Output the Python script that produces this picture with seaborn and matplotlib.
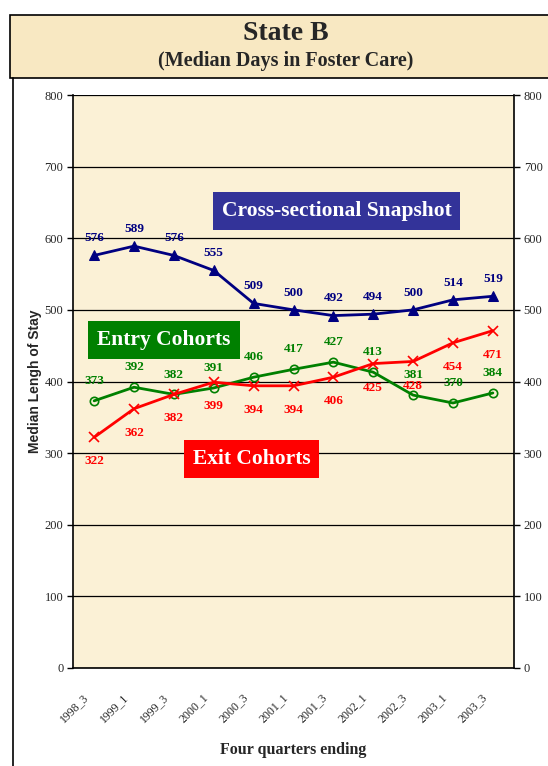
import numpy as np
import pandas as pd
import matplotlib
matplotlib.use("Agg")
import matplotlib.pyplot as plt
import matplotlib.transforms as mtrans
import seaborn as sns
from matplotlib.patches import Rectangle

#%% data
quarters = ["1998_3", "1999_1", "1999_3", "2000_1", "2000_3", "2001_1",
            "2001_3", "2002_1", "2002_3", "2003_1", "2003_3"]
snapshot = [576, 589, 576, 555, 509, 500, 492, 494, 500, 514, 519]
entry = [373, 392, 382, 391, 406, 417, 427, 413, 381, 370, 384]
exit_ = [322, 362, 382, 399, 394, 394, 406, 425, 428, 454, 471]

df = pd.DataFrame({"pos": np.arange(len(quarters)), "quarter": quarters,
                   "snapshot": snapshot, "entry": entry, "exit": exit_})

sns.set_style("white")
plt.rcParams['font.family'] = ['Liberation Serif', 'DejaVu Serif']

fig = plt.figure(figsize=(5.48, 7.66), dpi=100)
W, H = 548, 766

# title box
fig.patches.append(Rectangle((10 / W, 1 - 78 / H), 1, 63 / H, transform=fig.transFigure,
                             facecolor="#F8E8C2", edgecolor="black", lw=1.2))
fig.add_artist(plt.Line2D([13 / W, 13 / W], [0, 1 - 78 / H], color="black", lw=1.2,
                          transform=fig.transFigure))
fig.text(0.522, 1 - 34 / H, "State B", ha="center", va="center", fontsize=20, fontweight="bold")
fig.text(0.522, 1 - 61 / H, "(Median Days in Foster Care)", ha="center", va="center",
         fontsize=14.5, fontweight="bold")

ax = fig.add_axes([73 / W, 1 - 668 / H, 441 / W, 573 / H])
ax.set_facecolor("#FBF1D6")

sns.lineplot(data=df, x="pos", y="snapshot", ax=ax, color="#000080", marker="^",
             markersize=6.5, lw=2, markeredgecolor="#000080")
sns.lineplot(data=df, x="pos", y="entry", ax=ax, color="#008000", marker="o",
             markersize=6, lw=2, markerfacecolor="none", markeredgecolor="#008000",
             markeredgewidth=1.2)
sns.lineplot(data=df, x="pos", y="exit", ax=ax, color="#FF0000", marker="x",
             markersize=7, lw=2, markeredgecolor="#FF0000", markeredgewidth=1.2)

for i in range(len(quarters)):
    ax.annotate(str(snapshot[i]), (i, snapshot[i]), xytext=(0, 8), textcoords="offset points",
                ha="center", va="bottom", fontsize=9.5, fontweight="bold", color="#000080")
    ax.annotate(str(entry[i]), (i, entry[i]), xytext=(0, 10), textcoords="offset points",
                ha="center", va="bottom", fontsize=9.5, fontweight="bold", color="#008000")
    ax.annotate(str(exit_[i]), (i, exit_[i]), xytext=(0, -13), textcoords="offset points",
                ha="center", va="top", fontsize=9.5, fontweight="bold", color="#FF0000")

ax.set_xlim(-0.53, len(quarters) - 0.47)
ax.set_ylim(0, 800)
ax.set_yticks(range(0, 801, 100))
ax.yaxis.grid(True, color="black", lw=0.9)
ax.set_axisbelow(True)

ax.set_xticks(range(len(quarters)))
ax.set_xticklabels(quarters, rotation=45, ha="right", rotation_mode="anchor", fontsize=8.5)
ax.set_xticks(np.arange(-0.5, len(quarters)), minor=True)
ax.tick_params(axis="x", which="major", length=0, pad=17)
ax.tick_params(axis="x", which="minor", length=4, width=1, direction="out", color="black")
shift = mtrans.ScaledTranslation(-12 / 100, 0, fig.dpi_scale_trans)
for lab in ax.get_xticklabels():
    lab.set_transform(lab.get_transform() + shift)
ax.tick_params(axis="y", length=4, width=1, direction="out", labelsize=9, color="black",
               right=True, labelright=True, left=True, pad=3)
for s in ["left", "right", "bottom"]:
    ax.spines[s].set_visible(True)
    ax.spines[s].set_color("black")
    ax.spines[s].set_linewidth(1.2)
ax.spines["top"].set_visible(False)

ax.set_xlabel("Four quarters ending", fontsize=11.5, fontweight="bold", labelpad=12)
ax.set_ylabel("Median Lengh of Stay", fontsize=10, fontweight="bold",
              family=["Liberation Sans", "DejaVu Sans"], labelpad=2)

box_kw = dict(ha="center", va="center", fontsize=15.5, fontweight="bold", color="white")
ax.text(0.5975, 0.797, "Cross-sectional Snapshot", transform=ax.transAxes, **box_kw,
        bbox=dict(boxstyle="square,pad=0.42", facecolor="#333399", edgecolor="none"))
ax.text(0.206, 0.573, "Entry Cohorts", transform=ax.transAxes, **box_kw,
        bbox=dict(boxstyle="square,pad=0.42", facecolor="#008000", edgecolor="none"))
ax.text(0.405, 0.365, "Exit Cohorts", transform=ax.transAxes, **box_kw,
        bbox=dict(boxstyle="square,pad=0.42", facecolor="#FF0000", edgecolor="none"))

fig.savefig("out.png", dpi=100)
